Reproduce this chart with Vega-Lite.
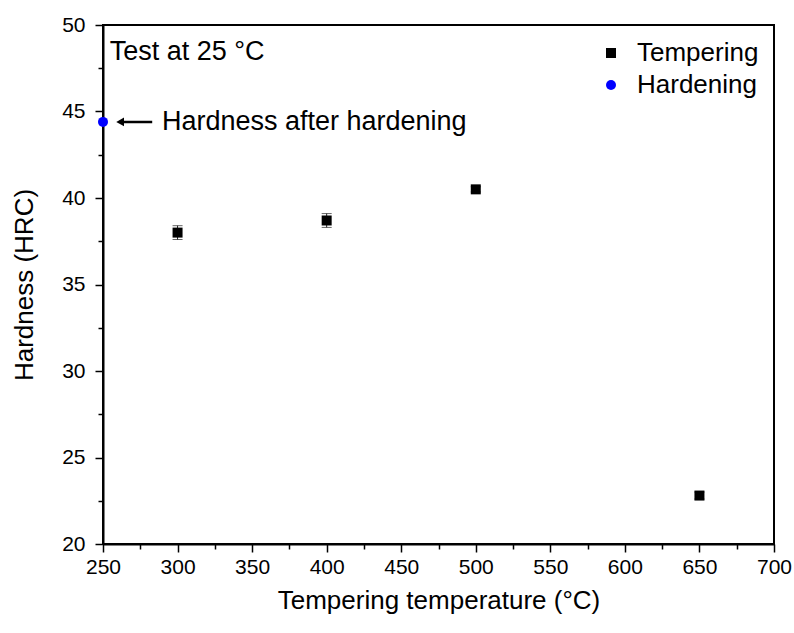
{
  "$schema": "https://vega.github.io/schema/vega-lite/v6.json",
  "width": 671,
  "height": 519,
  "autosize": {"type": "none"},
  "padding": {"left": 103, "top": 25, "right": 20, "bottom": 89},
  "background": "white",
  "config": {
    "font": "Liberation Sans",
    "view": {"stroke": "black", "strokeWidth": 2},
    "axis": {
      "domainColor": "black", "domainWidth": 2,
      "tickColor": "black", "tickWidth": 1.5,
      "labelColor": "black", "titleColor": "black",
      "labelFont": "Liberation Sans", "titleFont": "Liberation Sans",
      "labelFontSize": 21, "titleFontSize": 26, "titleFontWeight": "normal",
      "grid": false, "labelOverlap": false, "labelFlush": false
    },
    "legend": {
      "orient": "none", "legendX": 495, "legendY": 15,
      "labelFont": "Liberation Sans", "labelFontSize": 26, "labelColor": "black",
      "symbolSize": 100, "labelOffset": 13, "rowPadding": 6,
      "symbolStrokeWidth": 0
    }
  },
  "datasets": {
    "pts": [
      {"temp": 300, "hard": 38.0, "err": 0.4, "series": "Tempering"},
      {"temp": 400, "hard": 38.7, "err": 0.4, "series": "Tempering"},
      {"temp": 500, "hard": 40.5, "err": 0.15, "series": "Tempering"},
      {"temp": 650, "hard": 22.8, "err": 0.2, "series": "Tempering"},
      {"temp": 250, "hard": 44.4, "err": 0, "series": "Hardening"}
    ],
    "arrow": [{"temp": 262, "temp2": 283, "hard": 44.4}],
    "head": [{"temp": 261.5, "hard": 44.4}],
    "notes": [
      {"temp": 254.5, "hard": 48.45, "label": "Test at 25 °C"},
      {"temp": 289.5, "hard": 44.4, "label": "Hardness after hardening"}
    ]
  },
  "encoding": {
    "x": {
      "field": "temp", "type": "quantitative",
      "scale": {"domain": [250, 700], "nice": false, "zero": false},
      "axis": {
        "title": "Tempering temperature (°C)",
        "values": [250, 275, 300, 325, 350, 375, 400, 425, 450, 475, 500, 525, 550, 575, 600, 625, 650, 675, 700],
        "labelExpr": "datum.value % 50 === 0 ? datum.label : ''",
        "tickSize": {"condition": {"test": "datum.value % 50 === 0", "value": 8}, "value": 5},
        "labelPadding": 4, "titlePadding": 10
      }
    },
    "y": {
      "field": "hard", "type": "quantitative",
      "scale": {"domain": [20, 50], "nice": false, "zero": false},
      "axis": {
        "title": "Hardness (HRC)",
        "values": [20, 22.5, 25, 27.5, 30, 32.5, 35, 37.5, 40, 42.5, 45, 47.5, 50],
        "labelExpr": "datum.value % 5 === 0 ? datum.label : ''",
        "tickSize": {"condition": {"test": "datum.value % 5 === 0", "value": 8}, "value": 5},
        "labelPadding": 10, "titlePadding": 24
      }
    }
  },
  "layer": [
    {
      "data": {"name": "pts"},
      "transform": [{"filter": "datum.series === 'Tempering'"}],
      "mark": {"type": "errorbar", "color": "#222222", "thickness": 1, "ticks": {"size": 10, "color": "#222222"}},
      "encoding": {
        "yError": {"field": "err"}
      }
    },
    {
      "data": {"name": "pts"},
      "mark": {"type": "point", "filled": true, "opacity": 1, "size": 100},
      "encoding": {
        "color": {
          "field": "series", "type": "nominal", "title": null,
          "scale": {"domain": ["Tempering", "Hardening"], "range": ["black", "blue"]}
        },
        "shape": {
          "field": "series", "type": "nominal", "title": null,
          "scale": {"domain": ["Tempering", "Hardening"], "range": ["square", "circle"]}
        }
      }
    },
    {
      "data": {"name": "arrow"},
      "mark": {"type": "rule", "color": "black", "strokeWidth": 2.5},
      "encoding": {"x2": {"field": "temp2"}}
    },
    {
      "data": {"name": "head"},
      "mark": {"type": "point", "shape": "triangle-left", "filled": true, "color": "black", "opacity": 1, "size": 80},
      "encoding": {}
    },
    {
      "data": {"name": "notes"},
      "mark": {"type": "text", "align": "left", "baseline": "middle", "fontSize": 27, "color": "black", "font": "Liberation Sans"},
      "encoding": {"text": {"field": "label"}}
    }
  ]
}
